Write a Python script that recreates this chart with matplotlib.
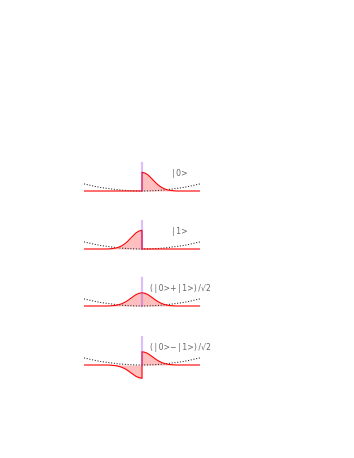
import numpy as np
import matplotlib
matplotlib.use("Agg")
import matplotlib.pyplot as plt

# 右侧半高斯波包 |0> 的取值
x_half = [0, 0.25, 0.5, 0.75, 1.0, 1.25, 1.5, 1.75, 2.0, 2.25, 2.5, 2.75, 3.0]
psi_half = [1.00, 0.96, 0.87, 0.72, 0.56, 0.40, 0.27, 0.17, 0.10, 0.05, 0.03, 0.01, 0.0]

# 势阱（虚线抛物线）
x_pot = [-5, -4.5, -4, -3.5, -3, -2.5, -2, -1.5, -1, -0.5, 0,
         0.5, 1, 1.5, 2, 2.5, 3, 3.5, 4, 4.5, 5]
v_pot = [0.38, 0.31, 0.24, 0.18, 0.14, 0.10, 0.06, 0.034, 0.015, 0.004, 0,
         0.004, 0.015, 0.034, 0.06, 0.10, 0.14, 0.18, 0.24, 0.31, 0.38]

ts = "\u2009"
labels = ["|" + ts + "0>", "|" + ts + "1>",
          "(" + ts + "|" + ts + "0>+" + ts + "|" + ts + "1>)" + ts + "/√2",
          "(" + ts + "|" + ts + "0>−" + ts + "|" + ts + "1>)" + ts + "/√2"]
baselines = [191, 249, 306, 365]   # 像素位置

# 组合网格：x=0 处有两个点，用来画出阶跃
xh = np.array(x_half)
ph = np.array(psi_half)
x = np.concatenate([[-5], -xh[::-1], xh, [5]])
zl = np.zeros(len(xh))
psi0 = np.concatenate([[0], zl, ph, [0]])
psi1 = np.concatenate([[0], ph[::-1], zl, [0]])
states = [psi0, psi1, (psi0 + psi1) / np.sqrt(2), (psi0 - psi1) / np.sqrt(2)]

W, H = 354, 458
fig = plt.figure(figsize=(W / 100, H / 100), dpi=100)

ppu = 18.7          # 每单位纵向像素
ymin, ymax = -0.8, 1.8
for psi, lab, b in zip(states, labels, baselines):
    bottom = 1 - (b - ymin * ppu) / H
    ax = fig.add_axes([84 / W, bottom, 116 / W, (ymax - ymin) * ppu / H])
    ax.plot(x_pot, v_pot, ':', color='#222222', lw=0.75)
    ax.fill_between(x, psi, 0, color='red', alpha=0.25, lw=0)
    ax.plot(x, psi, color='red', lw=0.8)
    ax.plot([0, 0], [0, 1.5], color='blueviolet', alpha=0.3, lw=1.6)
    ax.text(3.3, 0.95, lab, ha='center', va='center', fontsize=5.6, color='#666666')
    ax.set_xlim(-5, 5)
    ax.set_ylim(ymin, ymax)
    ax.axis('off')

fig.savefig("out.png", dpi=100)
